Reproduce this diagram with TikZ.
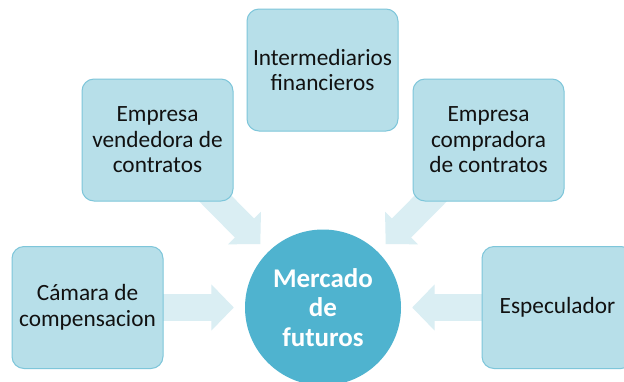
\documentclass[tikz,border=0pt]{standalone}
\usepackage{fontspec}
\setmainfont{Carlito}
\usetikzlibrary{arrows.meta}
\definecolor{boxfill}{HTML}{B7DFE9}
\definecolor{boxline}{HTML}{7EC6DA}
\definecolor{circfill}{HTML}{4FB3CF}
\definecolor{arrfill}{HTML}{DAEEF3}
\definecolor{txt}{HTML}{111111}
\begin{document}
\begin{tikzpicture}[x=1pt,y=-1pt,
  box/.style={draw=boxline, line width=1pt, fill=boxfill, rounded corners=12pt,
    minimum width=151pt, minimum height=122pt, align=center, text=txt,
    font=\fontsize{23.3}{25.5}\selectfont, inner sep=0pt},
  hub/.style={circle, fill=circfill, minimum size=156pt, inner sep=0pt, align=center,
    text=white, font=\fontsize{27}{29.5}\selectfont\bfseries},
  flow/.style={draw=arrfill, line width=27pt, shorten >=11pt,
    -{Triangle[width=45pt,length=22.5pt]}, color=arrfill}]
\clip (0,0) rectangle (624,381);
\fill[white] (0,0) rectangle (624,381);
\node[hub] (m) at (323,307.5) {Mercado\\de\\futuros};
\coordinate (ca) at (87.5,307.5);
\coordinate (ve) at (157.5,140);
\coordinate (co) at (488.5,140);
\coordinate (es) at (557.5,307.5);
\draw[flow] (ca) -- (m);
\draw[flow] (ve) -- (m);
\draw[flow] (co) -- (m);
\draw[flow] (es) -- (m);
\node[box] (camara) at (ca) {Cámara de\\compensacion};
\node[box] (vend) at (ve) {Empresa\\vendedora de\\contratos};
\node[box] (inter) at (322.5,70) {Intermediarios\\financieros};
\node[box] (comp) at (co) {Empresa\\compradora\\de contratos};
\node[box] (espec) at (es) {Especulador};
\end{tikzpicture}
\end{document}
